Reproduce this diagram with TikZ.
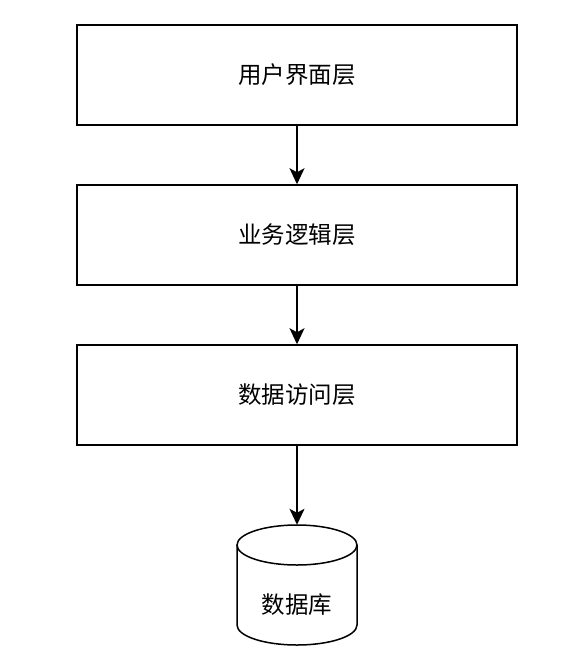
\documentclass[tikz,border=0pt]{standalone}
\usepackage{fontspec}
\newfontfamily\cjk{Noto Sans CJK SC}
\usetikzlibrary{arrows.meta}
\begin{document}
\begin{tikzpicture}[x=1pt,y=-1pt,
  txt/.style={font=\cjk\fontsize{23.5}{28}\selectfont},
  layer/.style={draw, line width=1.5pt, minimum width=440pt, minimum height=100pt, txt, inner sep=0pt},
  dbline/.style={line width=1.5pt},
  conn/.style={line width=1.5pt, -{Stealth[length=16pt,width=15pt,inset=4pt]}}]
\useasboundingbox (0,0) rectangle (586,668);
\node[layer] (ui) at (297,75) {用户界面层};
\node[layer] (bl) at (297,235) {业务逻辑层};
\node[layer] (da) at (297,395) {数据访问层};
\node[minimum width=120pt, minimum height=120pt, inner sep=0pt] (db) at (297,585) {};
\draw[dbline] (237,545) -- (237,625) arc[start angle=180, end angle=360, x radius=60pt, y radius=20pt] -- (357,545);
\draw[dbline] (297,545) ellipse [x radius=60pt, y radius=20pt];
\node[txt] (dbl) at (297,605) {数据库};
\draw[conn] (ui) -- (bl);
\draw[conn] (bl) -- (da);
\draw[conn] (da) -- (db.north);
\end{tikzpicture}
\end{document}
